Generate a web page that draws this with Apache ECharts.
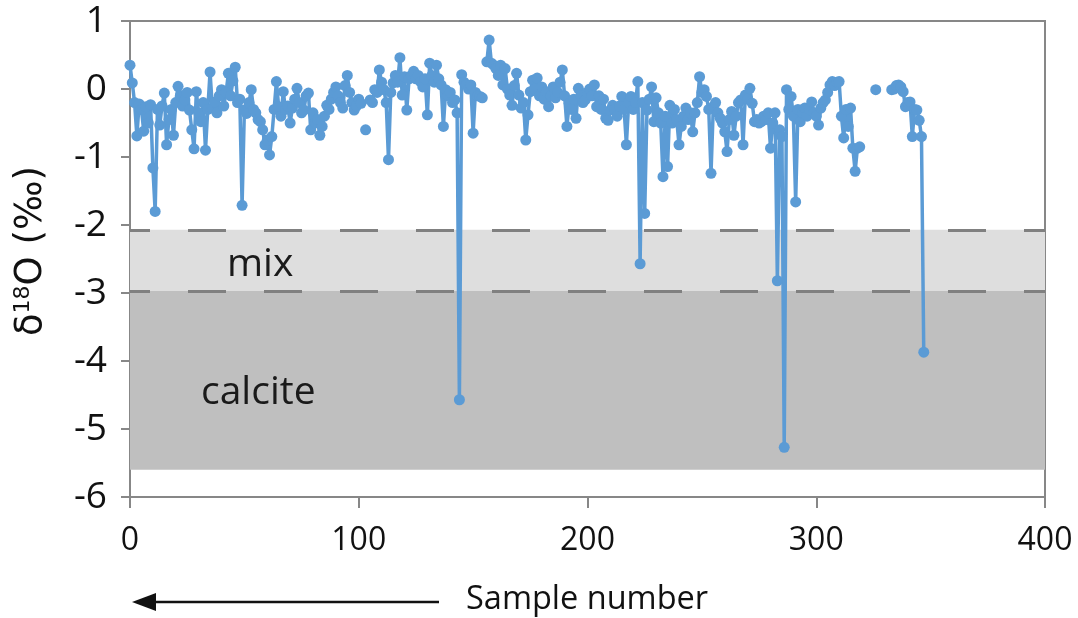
<!DOCTYPE html>
<html>
<head>
<meta charset="utf-8">
<script src="https://cdn.jsdelivr.net/npm/echarts@6/dist/echarts.min.js"></script>
<style>
html,body{margin:0;padding:0;background:#fff;}
#chart{width:1078px;height:618px;}
</style>
</head>
<body>
<div id="chart"></div>
<script>
// δ18O values, indexed by sample number (0, 1, 2, ...); null = no sample
const d18O = [
  0.35, 0.09, -0.2, -0.69, -0.22, -0.3, -0.62, -0.26, -0.5, -0.23,
  -1.16, -1.8, -0.3, -0.53, -0.25, -0.06, -0.82, -0.45, -0.3, -0.68,
  -0.2, 0.04, -0.1, -0.25, -0.16, -0.05, -0.31, -0.6, -0.88, -0.04,
  -0.35, -0.48, -0.2, -0.9, -0.3, 0.25, -0.28, -0.19, -0.35, -0.1,
  -0.01, -0.25, -0.05, 0.23, -0.1, 0.12, 0.32, -0.2, -0.15, -1.71,
  -0.31, -0.36, -0.2, -0.01, -0.3, -0.35, -0.45, -0.48, -0.6, -0.82,
  -0.75, -0.97, -0.7, -0.3, 0.11, -0.26, -0.4, -0.04, -0.3, -0.25,
  -0.5, -0.28, -0.15, 0.01, -0.2, -0.35, -0.31, -0.1, -0.06, -0.6,
  -0.35, -0.5, -0.45, -0.68, -0.55, -0.4, -0.24, -0.3, -0.15, -0.05,
  0.03, -0.1, -0.2, -0.28, 0.05, 0.2, -0.05, -0.2, -0.31, -0.25,
  -0.15, -0.21, null, -0.6, null, -0.16, -0.2, -0.01, -0.05, 0.28,
  0.1, -0.01, -0.2, -1.04, -0.05, 0.09, 0.2, 0.1, 0.46, -0.09,
  0.18, -0.31, 0.15, 0.2, 0.26, 0.15, 0.2, 0.11, 0.03, 0.15,
  -0.38, 0.38, 0.2, 0.1, 0.35, 0.15, 0.06, -0.55, -0.01, -0.1,
  -0.05, -0.2, -0.16, -0.35, -4.57, 0.21, 0.1, 0.06, 0.0, 0.06,
  -0.65, -0.05, -0.1, -0.11, -0.13, null, 0.4, 0.72, 0.38, 0.35,
  0.3, 0.2, 0.35, 0.06, 0.3, 0.0, -0.09, -0.24, 0.05, 0.23,
  -0.09, -0.28, -0.2, -0.75, -0.38, -0.04, 0.13, 0.0, 0.16, -0.1,
  0.03, -0.15, -0.04, -0.26, -0.1, 0.03, -0.13, -0.05, 0.1, 0.28,
  -0.1, -0.55, -0.21, -0.3, -0.15, -0.43, 0.01, -0.1, -0.2, -0.16,
  -0.05, 0.0, -0.1, 0.06, -0.26, -0.1, -0.3, -0.15, -0.43, -0.46,
  -0.31, -0.24, -0.3, -0.4, -0.25, -0.11, -0.3, -0.82, -0.2, -0.11,
  -0.3, -0.2, 0.11, -2.57, -0.2, -1.83, -0.31, -0.15, 0.03, -0.48,
  -0.13, -0.35, -0.5, -1.29, -0.4, -1.14, -0.24, -0.5, -0.3, -0.45,
  -0.82, -0.55, -0.4, -0.28, -0.45, -0.35, -0.63, -0.35, -0.2, 0.18,
  -0.05, -0.01, -0.11, -0.3, -1.24, -0.26, -0.2, -0.35, -0.43, -0.5,
  -0.63, -0.92, -0.45, -0.33, -0.68, -0.4, -0.2, -0.16, -0.82, -0.09,
  -0.15, 0.01, -0.21, -0.48, -0.45, -0.5, -0.48, -0.4, -0.45, -0.35,
  -0.87, -0.5, -0.35, -2.82, -0.6, -0.7, -5.27, -0.01, -0.3, -0.11,
  -0.4, -1.66, -0.3, -0.48, -0.35, -0.28, -0.4, -0.3, -0.19, -0.35,
  -0.4, -0.53, -0.28, -0.2, -0.16, -0.05, 0.06, 0.11, 0.05, 0.1,
  0.11, -0.4, -0.72, -0.3, -0.55, -0.28, -0.87, -1.21, -0.87, -0.85,
  null, null, null, null, null, null, -0.01, null, null, null,
  null, null, null, -0.01, 0.0, 0.05, 0.06, 0.03, -0.04, -0.26,
  -0.2, -0.19, -0.7, -0.3, -0.31, -0.46, -0.7, -3.87
];

// zones (‰)
const mixZone = [-2.07, -2.97];
const calciteZone = [-2.97, -5.6];
const zoneLabels = ['mix', 'calcite'];

// axis ticks
const xTicks = [0, 100, 200, 300, 400];
const yTicks = [-6, -5, -4, -3, -2, -1, 0, 1];

const FONT = '"Open Sans", sans-serif';
const chart = echarts.init(document.getElementById('chart'), null, {renderer: 'canvas'});

const seriesData = d18O.map((v, i) => [i, v === null ? '-' : v]);

const option = {
  animation: false,
  backgroundColor: '#ffffff',
  grid: {
    left: 130, right: 33, top: 21, bottom: 121,
    show: true, borderColor: '#878787', borderWidth: 2, backgroundColor: 'transparent'
  },
  xAxis: {
    type: 'value',
    min: xTicks[0], max: xTicks[xTicks.length - 1], interval: 100,
    axisLine: {show: true, onZero: false, lineStyle: {color: '#878787', width: 2}},
    axisTick: {show: true, inside: false, length: 11, lineStyle: {color: '#878787', width: 2}},
    axisLabel: {margin: 28, fontSize: 32, color: '#111', fontFamily: FONT},
    splitLine: {show: false}
  },
  yAxis: {
    type: 'value',
    min: yTicks[0], max: yTicks[yTicks.length - 1], interval: 1,
    axisLine: {show: true, onZero: false, lineStyle: {color: '#878787', width: 2}},
    axisTick: {show: true, inside: false, length: 9, lineStyle: {color: '#878787', width: 2}},
    axisLabel: {margin: 23, fontSize: 37, color: '#111', fontFamily: FONT},
    splitLine: {show: false}
  },
  graphic: [
    {
      type: 'text', x: 31, y: 251, rotation: Math.PI / 2, z: 100,
      style: {
        text: '{a|δ}{s|18}{a|O (‰)}',
        align: 'center', verticalAlign: 'middle',
        rich: {
          a: {fontSize: 37, fill: '#111', fontFamily: '"DejaVu Sans", sans-serif'},
          s: {fontSize: 22, fill: '#111', fontFamily: '"DejaVu Sans", sans-serif', verticalAlign: 'top', padding: [0, 0, 16, 0]}
        }
      }
    },
    {type: 'text', x: 227, y: 265, z: 100, style: {text: zoneLabels[0], font: '39px ' + FONT, fill: '#1a1a1a', verticalAlign: 'middle'}},
    {type: 'text', x: 201, y: 393, z: 100, style: {text: zoneLabels[1], font: '39px ' + FONT, fill: '#1a1a1a', verticalAlign: 'middle'}},
    {type: 'text', x: 466, y: 600, z: 100, style: {text: 'Sample number', font: '32.5px ' + FONT, fill: '#111', verticalAlign: 'middle'}},
    {type: 'line', z: 100, shape: {x1: 150, y1: 602, x2: 439, y2: 602}, style: {stroke: '#111', lineWidth: 2.5}},
    {type: 'polygon', z: 100, shape: {points: [[132, 602], [156, 593], [156, 611]]}, style: {fill: '#111'}}
  ],
  series: [
    {
      type: 'line',
      data: [],
      z: 1,
      silent: true,
      markArea: {
        silent: true,
        data: [
          [{coord: [xTicks[0], mixZone[0]], itemStyle: {color: '#dedede'}}, {coord: [xTicks[4], mixZone[1]]}],
          [{coord: [xTicks[0], calciteZone[0]], itemStyle: {color: '#bfbfbf'}}, {coord: [xTicks[4], calciteZone[1]]}]
        ]
      },
      markLine: {
        silent: true,
        symbol: ['none', 'none'],
        label: {show: false},
        lineStyle: {color: '#808080', width: 3, type: [38, 38], dashOffset: 18},
        data: [
          [{coord: [xTicks[0], mixZone[0]]}, {coord: [xTicks[4], mixZone[0]]}],
          [{coord: [xTicks[0], mixZone[1]]}, {coord: [xTicks[4], mixZone[1]]}]
        ]
      }
    },
    {
      type: 'line',
      data: seriesData,
      z: 5,
      connectNulls: false,
      showSymbol: true,
      symbol: 'circle',
      symbolSize: 11,
      itemStyle: {color: '#5b9bd5'},
      lineStyle: {color: '#5b9bd5', width: 3.5},
      emphasis: {disabled: true}
    }
  ]
};
chart.setOption(option);
</script>
</body>
</html>
